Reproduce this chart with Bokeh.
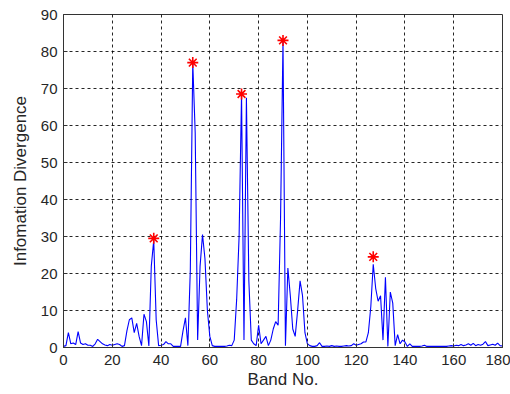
from bokeh.plotting import figure
from bokeh.models import Range1d, FixedTicker
from bokeh.embed import file_html
from bokeh.resources import INLINE

band = list(range(0, 181))
divergence = [
    0.3, 0.5, 4.0, 1.0, 1.2, 0.8, 4.3, 1.2, 0.8, 1.0,      # 0-9
    0.6, 0.6, 0.3, 1.0, 2.2, 1.6, 1.0, 0.7, 0.5, 0.8,      # 10-19
    0.6, 0.8, 1.0, 0.8, 0.3, 0.5, 4.5, 7.5, 8.0, 4.0,      # 20-29
    6.5, 3.0, 0.5, 9.0, 7.0, 0.4, 22.0, 29.0, 7.5, 0.5,    # 30-39
    0.6, 0.8, 1.6, 1.0, 1.0, 0.3, 0.3, 0.3, 0.3, 4.5,      # 40-49
    8.0, 0.5, 21.0, 77.0, 58.0, 2.0, 22.0, 30.5, 24.0, 10.0,  # 50-59
    3.0, 0.5, 0.3, 0.3, 0.3, 0.3, 0.3, 0.4, 0.6, 0.5,      # 60-69
    2.0, 13.0, 30.0, 68.5, 2.0, 67.5, 18.0, 2.0, 1.0, 0.5,  # 70-79
    6.0, 1.0, 2.0, 3.0, 0.5, 2.0, 5.0, 7.0, 6.0, 35.0,     # 80-89
    83.0, 0.5, 21.5, 14.0, 5.0, 3.0, 10.0, 18.0, 14.0, 4.0,  # 90-99
    1.0, 0.5, 0.3, 0.3, 0.5, 1.3, 0.3, 0.3, 0.4, 0.3,      # 100-109
    0.5, 0.3, 0.4, 0.3, 0.3, 0.4, 0.5, 0.4, 0.5, 1.0,      # 110-119
    0.6, 0.8, 1.0, 1.5, 1.5, 4.0, 11.0, 22.5, 16.0, 12.5,  # 120-129
    14.0, 2.0, 19.0, 0.3, 15.0, 12.0, 0.5, 3.5, 1.0, 2.0,  # 130-139
    1.5, 0.3, 1.0, 0.3, 0.3, 0.3, 0.3, 0.4, 0.6, 0.3,      # 140-149
    0.3, 0.3, 0.3, 0.3, 0.3, 0.3, 0.3, 0.3, 0.4, 0.5,      # 150-159
    0.4, 0.6, 0.5, 0.8, 0.5, 0.7, 1.0, 0.6, 1.1, 0.5,      # 160-169
    0.8, 0.6, 0.9, 1.6, 0.5, 0.7, 0.9, 0.6, 1.2, 0.5,      # 170-179
    0.4,                                                   # 180
]
peak_band = [37, 53, 73, 90, 127]
peak_value = [29.5, 77.0, 68.5, 83.0, 24.5]

x_ticks = [0, 20, 40, 60, 80, 100, 120, 140, 160, 180]
y_ticks = [0, 10, 20, 30, 40, 50, 60, 70, 80, 90]

p = figure(width=510, height=394, output_backend="svg", toolbar_location=None,
           x_range=Range1d(0, 180), y_range=Range1d(0, 90),
           min_border_left=63, min_border_right=8, min_border_top=14,
           min_border_bottom=47)

p.line(band, divergence, line_color="#0000ff", line_width=1.1)
p.scatter(peak_band, peak_value, marker="asterisk", size=11,
          line_color="#ff0000", line_width=1.6)

font = "Liberation Sans"
for ax, ticks in ((p.xaxis[0], x_ticks), (p.yaxis[0], y_ticks)):
    ax.ticker = FixedTicker(ticks=ticks)
    ax.major_label_text_font = font
    ax.major_label_text_font_size = "15px"
    ax.major_label_text_color = "#262626"
    ax.axis_label_text_font = font
    ax.axis_label_text_font_size = "17px"
    ax.axis_label_text_font_style = "normal"
    ax.axis_label_text_color = "#262626"
    ax.major_tick_in = 4
    ax.major_tick_out = 0
    ax.minor_tick_line_color = None
    ax.axis_line_color = "#333333"
    ax.major_tick_line_color = "#333333"

p.xaxis.axis_label = "Band No."
p.yaxis.axis_label = "Infomation Divergence"
p.xaxis.major_label_standoff = 7
p.yaxis.major_label_standoff = 6
p.xaxis.axis_label_standoff = 2
p.yaxis.axis_label_standoff = 8

for g in (p.xgrid[0], p.ygrid[0]):
    g.grid_line_color = "#000000"
    g.grid_line_dash = "3 3"
    g.grid_line_width = 1
    g.grid_line_alpha = 0.85

p.outline_line_color = "#333333"
p.outline_line_width = 1
p.background_fill_color = "white"
p.border_fill_color = "white"

open("out.html", "w").write(file_html(p, INLINE))
